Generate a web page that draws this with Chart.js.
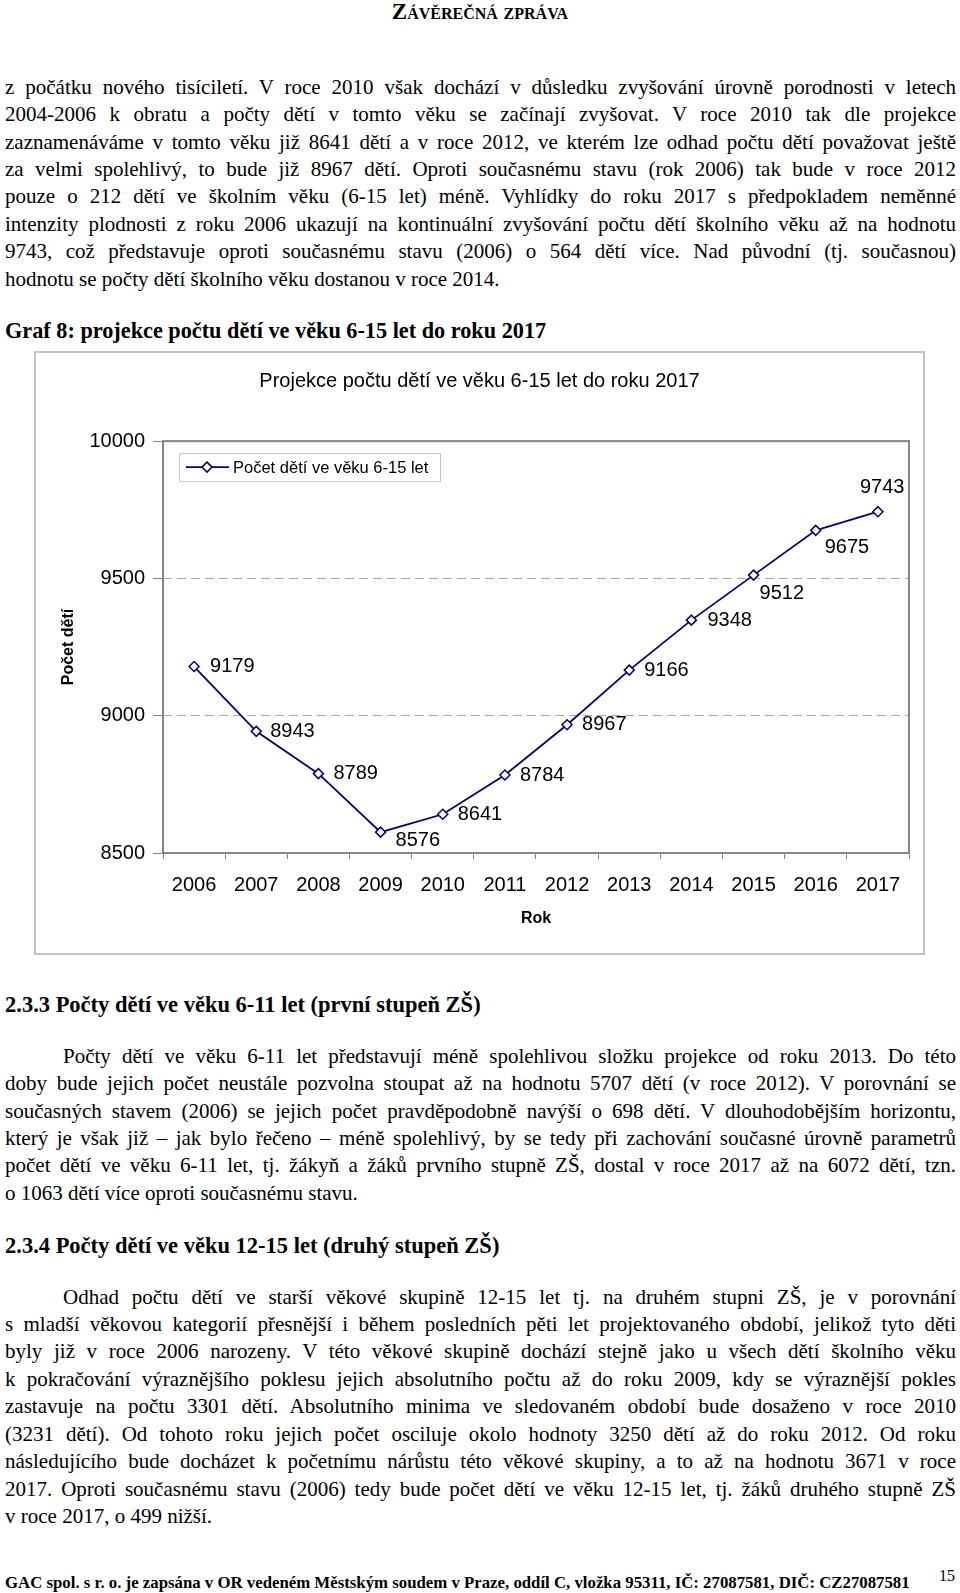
<!DOCTYPE html>
<html lang="cs">
<head>
<meta charset="utf-8">
<script src="https://cdn.jsdelivr.net/npm/chart.js@4.4.1/dist/chart.umd.min.js"></script>
<style>
  body { margin: 0; width: 960px; height: 1593px; background: #fff; position: relative; overflow: hidden;
         font-family: "Liberation Serif", "Times New Roman", serif; color: #000; }
  .abs { position: absolute; white-space: nowrap; }
  .para { position: absolute; left: 5px; width: 951px; font-size: 21px; line-height: 27.43px; }
  .para div { text-align: justify; text-align-last: justify; height: 27.43px; }
  .para div.last { text-align-last: left; }
  .para div.ind { padding-left: 58px; }
  .head { font-weight: bold; font-size: 22.5px; }
  #chartBox { position: absolute; left: 34px; top: 351px; width: 891px; height: 604px;
              border: 2px solid #c4c4c4; box-sizing: border-box; }
</style>
</head>
<body>

<div class="abs" style="left:0;width:960px;top:-1px;text-align:center;font-weight:bold;font-variant:small-caps;font-size:23px;">Závěrečná zpráva</div>

<div class="para" style="top:73.7px;">
  <div>z počátku nového tisíciletí. V roce 2010 však dochází v důsledku zvyšování úrovně porodnosti v letech</div>
  <div>2004-2006 k obratu a počty dětí v tomto věku se začínají zvyšovat. V roce 2010 tak dle projekce</div>
  <div>zaznamenáváme v tomto věku již 8641 dětí a v roce 2012, ve kterém lze odhad počtu dětí považovat ještě</div>
  <div>za velmi spolehlivý, to bude již 8967 dětí. Oproti současnému stavu (rok 2006) tak bude v roce 2012</div>
  <div>pouze o 212 dětí ve školním věku (6-15 let) méně. Vyhlídky do roku 2017 s předpokladem neměnné</div>
  <div>intenzity plodnosti z roku 2006 ukazují na kontinuální zvyšování počtu dětí školního věku až na hodnotu</div>
  <div>9743, což představuje oproti současnému stavu (2006) o 564 dětí více. Nad původní (tj. současnou)</div>
  <div class="last">hodnotu se počty dětí školního věku dostanou v roce 2014.</div>
</div>

<div class="abs head" style="left:5px;top:318px;font-size:22.25px;">Graf 8: projekce počtu dětí ve věku 6-15 let do roku 2017</div>

<div id="chartBox"><canvas id="projectionChart"></canvas></div>

<div class="abs head" style="left:5px;top:992px;">2.3.3 Počty dětí ve věku 6-11 let (první stupeň ZŠ)</div>

<div class="para" style="top:1042.8px;">
  <div class="ind">Počty dětí ve věku 6-11 let představují méně spolehlivou složku projekce od roku 2013. Do této</div>
  <div>doby bude jejich počet neustále pozvolna stoupat až na hodnotu 5707 dětí (v roce 2012). V porovnání se</div>
  <div>současných stavem (2006) se jejich počet pravděpodobně navýší o 698 dětí. V dlouhodobějším horizontu,</div>
  <div>který je však již – jak bylo řečeno – méně spolehlivý, by se tedy při zachování současné úrovně parametrů</div>
  <div>počet dětí ve věku 6-11 let, tj. žákyň a žáků prvního stupně ZŠ, dostal v roce 2017 až na 6072 dětí, tzn.</div>
  <div class="last">o 1063 dětí více oproti současnému stavu.</div>
</div>

<div class="abs head" style="left:5px;top:1232.5px;">2.3.4 Počty dětí ve věku 12-15 let (druhý stupeň ZŠ)</div>

<div class="para" style="top:1283.6px;">
  <div class="ind">Odhad počtu dětí ve starší věkové skupině 12-15 let tj. na druhém stupni ZŠ, je v porovnání</div>
  <div>s mladší věkovou kategorií přesnější i během posledních pěti let projektovaného období, jelikož tyto děti</div>
  <div>byly již v roce 2006 narozeny. V této věkové skupině dochází stejně jako u všech dětí školního věku</div>
  <div>k pokračování výraznějšího poklesu jejich absolutního počtu až do roku 2009, kdy se výraznější pokles</div>
  <div>zastavuje na počtu 3301 dětí. Absolutního minima ve sledovaném období bude dosaženo v roce 2010</div>
  <div>(3231 dětí). Od tohoto roku jejich počet osciluje okolo hodnoty 3250 dětí až do roku 2012. Od roku</div>
  <div>následujícího bude docházet k početnímu nárůstu této věkové skupiny, a to až na hodnotu 3671 v roce</div>
  <div>2017. Oproti současnému stavu (2006) tedy bude počet dětí ve věku 12-15 let, tj. žáků druhého stupně ZŠ</div>
  <div class="last">v roce 2017, o 499 nižší.</div>
</div>

<div class="abs" style="left:5px;top:1572.5px;font-weight:bold;font-size:16.8px;">GAC spol. s r. o. je zapsána v OR vedeném Městským soudem v Praze, oddíl C, vložka 95311, IČ: 27087581, DIČ: CZ27087581</div>
<div class="abs" style="left:939px;top:1567px;font-size:16px;">15</div>

<script>
// Chart data
const years = ['2006', '2007', '2008', '2009', '2010', '2011', '2012', '2013', '2014', '2015', '2016', '2017'];
const childrenCount = [9179, 8943, 8789, 8576, 8641, 8784, 8967, 9166, 9348, 9512, 9675, 9743];
const yTicks = [8500, 9000, 9500, 10000];
const seriesName = 'Počet dětí ve věku 6-15 let';

// where each value label sits relative to its point (dx to text start, dy to text middle)
const labelOffsets = [[16, 0], [14, 0], [15, 0], [15, 8], [15, 0], [15, 0],
                      [15, 0], [15, 0], [16, 0], [6, 18], [9, 17], [-18, -24]];

const navy = '#000080';
const sans = '"Liberation Sans", Arial, sans-serif';
Chart.defaults.font.family = sans;
Chart.defaults.color = '#000';

// grey frame round the plot area
const plotFrame = {
    id: 'plotFrame',
    beforeDatasetsDraw(chart) {
        const { ctx, chartArea: a } = chart;
        ctx.save();
        ctx.strokeStyle = '#858585';
        ctx.lineWidth = 2;
        ctx.strokeRect(a.left, a.top, a.right - a.left, a.bottom - a.top);
        ctx.restore();
    }
};

// numbers next to each point
const valueLabels = {
    id: 'valueLabels',
    afterDatasetsDraw(chart) {
        const ctx = chart.ctx;
        const meta = chart.getDatasetMeta(0);
        const values = chart.data.datasets[0].data;
        ctx.save();
        ctx.font = '20px ' + sans;
        ctx.fillStyle = '#000';
        ctx.textBaseline = 'middle';
        ctx.textAlign = 'left';
        meta.data.forEach((pt, i) => {
            const [dx, dy] = labelOffsets[i];
            ctx.fillText(String(values[i]), pt.x + dx, pt.y + dy);
        });
        ctx.restore();
    }
};

// legend box inside the plot, top left
const innerLegend = {
    id: 'innerLegend',
    afterDraw(chart) {
        const { ctx, chartArea: a } = chart;
        const x0 = a.left + 16, y0 = a.top + 12, w = 261, h = 28, cy = y0 + h / 2;
        ctx.save();
        ctx.fillStyle = '#fff';
        ctx.fillRect(x0, y0, w, h);
        ctx.strokeStyle = '#c8c8c8';
        ctx.lineWidth = 1;
        ctx.strokeRect(x0 + 0.5, y0 + 0.5, w, h);

        ctx.strokeStyle = navy;
        ctx.lineWidth = 1.8;
        ctx.beginPath();
        ctx.moveTo(x0 + 7, cy);
        ctx.lineTo(x0 + 50, cy);
        ctx.stroke();

        const dx = x0 + 28, r = 5;
        ctx.beginPath();
        ctx.moveTo(dx, cy - r);
        ctx.lineTo(dx + r, cy);
        ctx.lineTo(dx, cy + r);
        ctx.lineTo(dx - r, cy);
        ctx.closePath();
        ctx.fillStyle = '#fff';
        ctx.fill();
        ctx.lineWidth = 1.5;
        ctx.stroke();

        ctx.fillStyle = '#000';
        ctx.font = '16.5px ' + sans;
        ctx.textBaseline = 'middle';
        ctx.fillText(chart.data.datasets[0].label, x0 + 54, cy + 1);
        ctx.restore();
    }
};

const ctx = document.getElementById('projectionChart').getContext('2d');
new Chart(ctx, {
    type: 'line',
    data: {
        labels: years,
        datasets: [{
            label: seriesName,
            data: childrenCount,
            borderColor: navy,
            borderWidth: 1.8,
            tension: 0,
            pointStyle: 'rectRot',
            pointRadius: 5,
            pointBorderWidth: 1.5,
            pointBackgroundColor: '#fff',
            pointBorderColor: navy,
            clip: false
        }]
    },
    options: {
        responsive: true,
        maintainAspectRatio: false,
        animation: false,
        events: [],
        layout: { padding: 0 },
        plugins: {
            legend: { display: false },
            tooltip: { enabled: false },
            title: {
                display: true,
                text: 'Projekce počtu dětí ve věku 6-15 let do roku 2017',
                color: '#000',
                font: { size: 20, weight: 'normal' },
                padding: { top: 16.5, bottom: 47.6 }
            }
        },
        scales: {
            x: {
                offset: true,
                afterFit: s => { s.height = 100; },
                grid: { drawOnChartArea: false, tickLength: 6, color: '#858585', offset: true },
                border: { display: false },
                ticks: { font: { size: 20 }, padding: 14, maxRotation: 0, autoSkip: false, color: '#000' },
                title: { display: true, text: 'Rok', font: { size: 16, weight: 'bold' }, padding: { top: 0, bottom: 24.4 } }
            },
            y: {
                min: 8500,
                max: 10000,
                afterFit: s => { s.width = 127; },
                afterBuildTicks: s => { s.ticks = yTicks.map(v => ({ value: v })); },
                grid: { color: '#a8a8a8', tickLength: 10, tickColor: '#858585', tickBorderDash: [] },
                border: { display: false, dash: [9, 5] },
                ticks: { font: { size: 20 }, padding: 8, color: '#000', callback: v => String(v) },
                title: { display: true, text: 'Počet dětí', font: { size: 16, weight: 'bold' }, padding: { top: 23, bottom: 0 } }
            },
            // empty strip on the right so the title stays centred on the whole box
            spacer: {
                type: 'linear',
                position: 'right',
                afterFit: s => { s.width = 14; },
                grid: { display: false },
                border: { display: false },
                ticks: { display: false }
            }
        }
    },
    plugins: [plotFrame, valueLabels, innerLegend]
});
</script>
</body>
</html>
